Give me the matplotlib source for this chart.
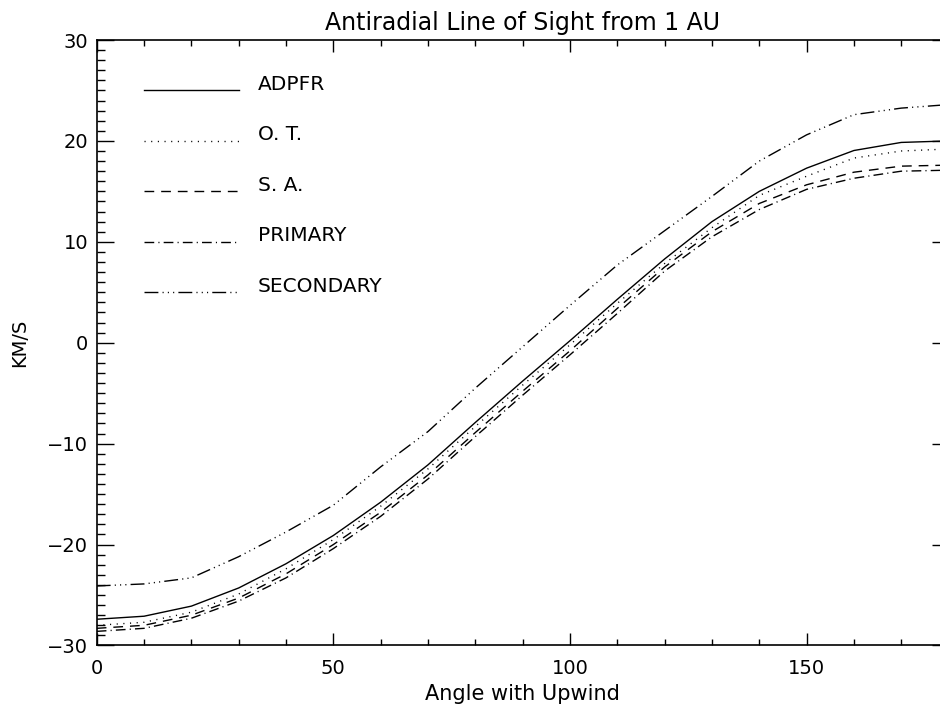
import matplotlib

matplotlib.use("Agg")
import matplotlib.pyplot as plt
from matplotlib.ticker import MultipleLocator

# angle with upwind (deg), vertices every 10 deg
angle = [0, 10, 20, 30, 40, 50, 60, 70, 80, 90, 100, 110, 120, 130, 140, 150, 160, 170, 180]

adpfr = [-27.4, -27.1, -26.1, -24.3, -21.9, -19.1, -15.8, -12.1, -7.9, -3.8,
         0.2, 4.3, 8.3, 12.0, 15.0, 17.3, 19.05, 19.85, 20.0]
ot = [-28.0, -27.7, -26.7, -24.9, -22.4, -19.5, -16.2, -12.5, -8.3, -4.2,
      -0.2, 3.9, 7.85, 11.4, 14.6, 16.5, 18.3, 19.0, 19.2]
sa = [-28.3, -28.0, -27.0, -25.3, -22.9, -20.0, -16.8, -13.1, -8.9, -4.8,
      -0.8, 3.4, 7.5, 11.0, 13.8, 15.65, 16.9, 17.5, 17.6]
primary = [-28.6, -28.3, -27.3, -25.6, -23.3, -20.4, -17.2, -13.5, -9.3, -5.2,
           -1.2, 2.9, 7.1, 10.5, 13.2, 15.2, 16.3, 17.0, 17.1]
secondary = [-24.1, -23.9, -23.3, -21.2, -18.75, -16.1, -12.3, -8.8, -4.5, -0.4,
             3.7, 7.7, 11.1, 14.5, 18.0, 20.6, 22.6, 23.25, 23.6]

labels = ["ADPFR", "O. T.", "S. A.", "PRIMARY", "SECONDARY"]
legend_y = [25, 20, 15, 10, 5]

styles = [
    "-",
    (0, (0.8, 4.0)),
    (0, (7, 5)),
    (0, (7, 3, 0.8, 3)),
    (0, (10, 3, 0.8, 3, 0.8, 3, 0.8, 3)),
]

plt.rcParams["font.family"] = "DejaVu Sans"

fig = plt.figure(figsize=(9.4, 7.08), dpi=100)
ax = fig.add_axes([0.1029, 0.0883, 0.9062, 0.8552])

for series, ls in zip([adpfr, ot, sa, primary, secondary], styles):
    ax.plot(angle, series, color="black", linewidth=1.0, linestyle=ls)

# hand-drawn legend, IDL style
for lab, ly, ls in zip(labels, legend_y, styles):
    ax.plot([10, 30], [ly, ly], color="black", linewidth=1.0, linestyle=ls)
    ax.text(34, ly + 0.05, lab, fontsize=14.5, va="baseline", ha="left")

ax.set_xlim(0, 180)
ax.set_ylim(-30, 30)
ax.xaxis.set_major_locator(MultipleLocator(50))
ax.xaxis.set_minor_locator(MultipleLocator(10))
ax.yaxis.set_major_locator(MultipleLocator(10))
ax.yaxis.set_minor_locator(MultipleLocator(1))

ax.tick_params(axis="both", which="both", direction="in", top=True, right=True,
               labelsize=14, width=1.0)
ax.tick_params(axis="x", which="major", length=8.6, pad=10)
ax.tick_params(axis="x", which="minor", length=4.3)
ax.tick_params(axis="y", which="major", length=12.2, pad=6)
ax.tick_params(axis="y", which="minor", length=5.8)
for s in ax.spines.values():
    s.set_linewidth(1.2)

ax.set_xlabel("Angle with Upwind", fontsize=15, labelpad=4)
ax.set_ylabel("KM/S", fontsize=14, labelpad=13)
ax.set_title("Antiradial Line of Sight from 1 AU", fontsize=17, pad=7)

fig.savefig("out.png", dpi=100)
